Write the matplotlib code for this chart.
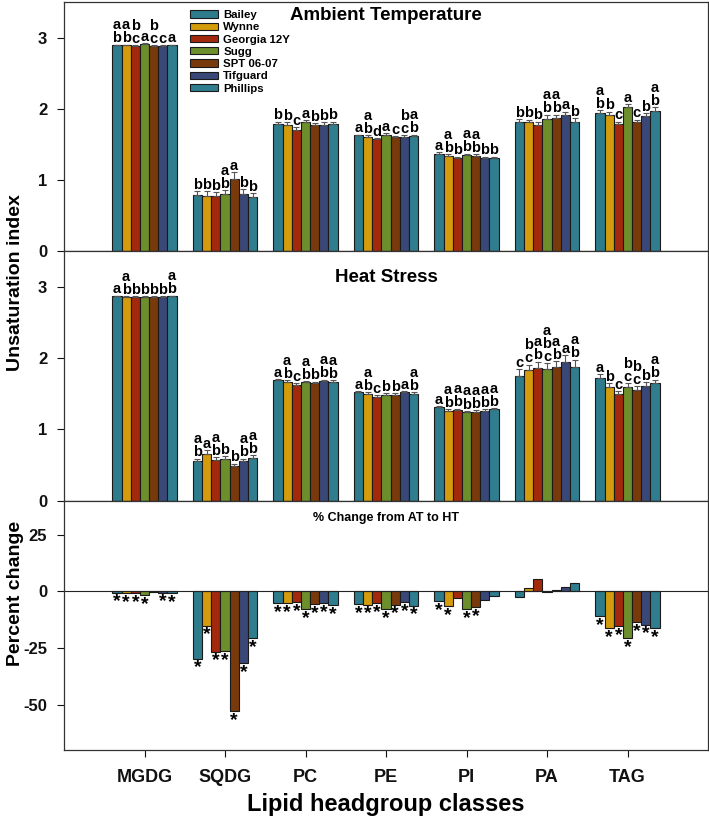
import numpy as np
import matplotlib
matplotlib.use('Agg')
import matplotlib.pyplot as plt

plt.rcParams['font.family'] = ['Liberation Sans', 'DejaVu Sans']
plt.rcParams['font.weight'] = 'bold'
plt.rcParams['axes.unicode_minus'] = False

# lipid classes and cultivars
classes = ['MGDG', 'SQDG', 'PC', 'PE', 'PI', 'PA', 'TAG']
cultivars = ['Bailey', 'Wynne', 'Georgia 12Y', 'Sugg', 'SPT 06-07', 'Tifguard', 'Phillips']
colors = ['#2e7b8c', '#d49c0c', '#a3290c', '#6c8e2b', '#783a0b', '#3a4878', '#2f7d8e']

# unsaturation index, ambient temperature (rows = classes, cols = cultivars)
at_mean = [
    [2.89, 2.89, 2.88, 2.91, 2.88, 2.88, 2.89],
    [0.79, 0.78, 0.78, 0.80, 1.02, 0.80, 0.76],
    [1.79, 1.78, 1.71, 1.81, 1.77, 1.78, 1.79],
    [1.63, 1.61, 1.57, 1.64, 1.60, 1.61, 1.62],
    [1.37, 1.34, 1.31, 1.35, 1.34, 1.31, 1.31],
    [1.81, 1.81, 1.77, 1.86, 1.87, 1.92, 1.82],
    [1.94, 1.92, 1.79, 2.02, 1.81, 1.90, 1.97],
]
at_err = [
    [0.01, 0.01, 0.01, 0.01, 0.01, 0.01, 0.01],
    [0.05, 0.06, 0.05, 0.06, 0.09, 0.07, 0.06],
    [0.03, 0.03, 0.03, 0.03, 0.03, 0.03, 0.03],
    [0.01, 0.02, 0.02, 0.02, 0.02, 0.02, 0.02],
    [0.02, 0.02, 0.02, 0.02, 0.02, 0.02, 0.02],
    [0.05, 0.04, 0.05, 0.06, 0.05, 0.04, 0.05],
    [0.04, 0.04, 0.03, 0.05, 0.04, 0.04, 0.05],
]
at_letters = [
    ['ab', 'ab', 'bc', 'a', 'bc', 'c', 'a'],
    ['b', 'b', 'b', 'ab', 'a', 'b', 'b'],
    ['b', 'b', 'c', 'a', 'b', 'b', 'b'],
    ['a', 'ab', 'd', 'a', 'c', 'bc', 'ab'],
    ['a', 'ab', 'b', 'ab', 'ab', 'b', 'b'],
    ['b', 'b', 'b', 'ab', 'ab', 'a', 'b'],
    ['ab', 'b', 'c', 'a', 'c', 'b', 'ab'],
]

# unsaturation index, heat stress
ht_mean = [
    [2.87, 2.86, 2.86, 2.86, 2.86, 2.86, 2.87],
    [0.55, 0.66, 0.57, 0.58, 0.48, 0.55, 0.60],
    [1.69, 1.67, 1.63, 1.66, 1.65, 1.68, 1.67],
    [1.52, 1.50, 1.46, 1.49, 1.49, 1.52, 1.50],
    [1.31, 1.26, 1.27, 1.24, 1.25, 1.26, 1.28],
    [1.75, 1.83, 1.86, 1.85, 1.88, 1.95, 1.88],
    [1.72, 1.60, 1.50, 1.59, 1.56, 1.61, 1.65],
]
ht_err = [
    [0.01, 0.01, 0.01, 0.01, 0.01, 0.01, 0.01],
    [0.04, 0.05, 0.04, 0.04, 0.04, 0.04, 0.04],
    [0.02, 0.02, 0.02, 0.02, 0.02, 0.02, 0.02],
    [0.02, 0.02, 0.02, 0.02, 0.02, 0.02, 0.02],
    [0.02, 0.02, 0.02, 0.02, 0.02, 0.02, 0.02],
    [0.10, 0.08, 0.09, 0.08, 0.08, 0.09, 0.10],
    [0.06, 0.05, 0.04, 0.06, 0.05, 0.05, 0.05],
]
ht_letters = [
    ['a', 'ab', 'b', 'b', 'b', 'b', 'ab'],
    ['ab', 'a', 'ab', 'b', 'b', 'ab', 'ab'],
    ['a', 'ab', 'c', 'ab', 'b', 'ab', 'ab'],
    ['a', 'ab', 'c', 'b', 'b', 'a', 'ab'],
    ['a', 'ab', 'ab', 'ab', 'ab', 'ab', 'ab'],
    ['c', 'bc', 'ab', 'abc', 'ab', 'a', 'ab'],
    ['a', 'b', 'c', 'bc', 'bc', 'b', 'ab'],
]

# percent change AT -> HT
pct_change = [
    [-0.6, -0.8, -0.9, -1.7, -0.5, -0.6, -0.9],
    [-29.8, -15.1, -26.7, -26.5, -53.0, -31.6, -20.6],
    [-5.1, -5.1, -4.7, -7.8, -5.6, -5.1, -6.2],
    [-5.6, -5.9, -5.1, -7.8, -5.9, -4.9, -6.3],
    [-4.4, -6.6, -2.9, -7.8, -6.9, -3.7, -2.1],
    [-2.5, 1.3, 5.4, -0.3, 0.8, 1.9, 3.7],
    [-11.0, -16.2, -15.4, -20.7, -13.7, -14.8, -16.2],
]
pct_sig = [
    [1, 1, 1, 1, 0, 1, 1],
    [1, 1, 1, 1, 1, 1, 1],
    [1, 1, 1, 1, 1, 1, 1],
    [1, 1, 1, 1, 1, 1, 1],
    [1, 1, 0, 1, 1, 0, 0],
    [0, 0, 0, 0, 0, 0, 0],
    [1, 1, 1, 1, 1, 1, 1],
]

W, H = 709, 819
fig = plt.figure(figsize=(W / 100, H / 100), dpi=100)
gs = fig.add_gridspec(3, 1, left=64 / W, right=708 / W, top=1 - 2 / H,
                      bottom=1 - 750 / H, hspace=0)
axes = [fig.add_subplot(gs[i]) for i in range(3)]

x = np.arange(len(classes))
bw = 0.114
offs = (np.arange(len(cultivars)) - 3) * bw


def style_axis(ax):
    for sp in ax.spines.values():
        sp.set_color('#333333')
        sp.set_linewidth(0.9)
    ax.tick_params(direction='out', length=5, width=0.8, labelsize=12, pad=7,
                   colors='#111111')
    ax.set_xlim(-1, 7)
    ax.set_xticks(x)


def bar_panel(ax, means, errs, letters):
    means = np.array(means)
    errs = np.array(errs)
    for j, cv in enumerate(cultivars):
        ax.bar(x + offs[j], means[:, j], bw, color=colors[j], edgecolor='#1a1a1a',
               linewidth=0.8, label=cv,
               yerr=[np.zeros(len(x)), errs[:, j]],
               error_kw=dict(ecolor='#555555', elinewidth=0.8, capsize=2.2, capthick=0.8))
        for i in range(len(x)):
            ax.annotate('\n'.join(letters[i][j]), (x[i] + offs[j], means[i, j] + errs[i, j]),
                        xytext=(0, -0.5), textcoords='offset points', ha='center', va='bottom',
                        fontsize=10.5, fontweight='bold', linespacing=0.92)
    ax.set_ylim(0, 3.5)
    ax.set_yticks([0, 1, 2, 3])
    style_axis(ax)
    ax.set_xticklabels([])


ax1, ax2, ax3 = axes
bar_panel(ax1, at_mean, at_err, at_letters)
bar_panel(ax2, ht_mean, ht_err, ht_letters)

ax1.text(3, 3.31, 'Ambient Temperature', ha='center', va='center', fontsize=13.5)
ax2.text(3, 3.13, 'Heat Stress', ha='center', va='center', fontsize=13.5)
ax1.legend(loc='upper left', bbox_to_anchor=(0.196, 0.968), frameon=False, fontsize=8.2,
           handlelength=2.4, handleheight=0.6, labelspacing=0.2, handletextpad=0.5,
           borderpad=0, borderaxespad=0)

pct = np.array(pct_change)
for j, cv in enumerate(cultivars):
    ax3.bar(x + offs[j], pct[:, j], bw, color=colors[j], edgecolor='#1a1a1a', linewidth=0.8)
    for i in range(len(x)):
        if pct_sig[i][j]:
            ax3.annotate('*', (x[i] + offs[j], min(pct[i, j], 0)), xytext=(0, -0.5),
                         textcoords='offset points', ha='center', va='top', fontsize=14,
                         fontweight='bold')
ax3.axhline(0, color='#222222', linewidth=0.8)
ax3.set_ylim(-70, 40)
ax3.set_yticks([25, 0, -25, -50])
style_axis(ax3)
ax3.set_xticklabels(classes, fontsize=13)
ax3.tick_params(axis='x', pad=9)
ax3.text(3, 32.5, '% Change from AT to HT', ha='center', va='center', fontsize=9)

fig.text(16 / W, 1 - 283 / H, 'Unsaturation index', rotation=90, ha='center', va='center',
         fontsize=14)
fig.text(16 / W, 1 - 593 / H, 'Percent change', rotation=90, ha='center', va='center',
         fontsize=14)
fig.text(386 / W, 1 - 805 / H, 'Lipid headgroup classes', ha='center', va='center',
         fontsize=17)

fig.savefig('out.png', dpi=100)
